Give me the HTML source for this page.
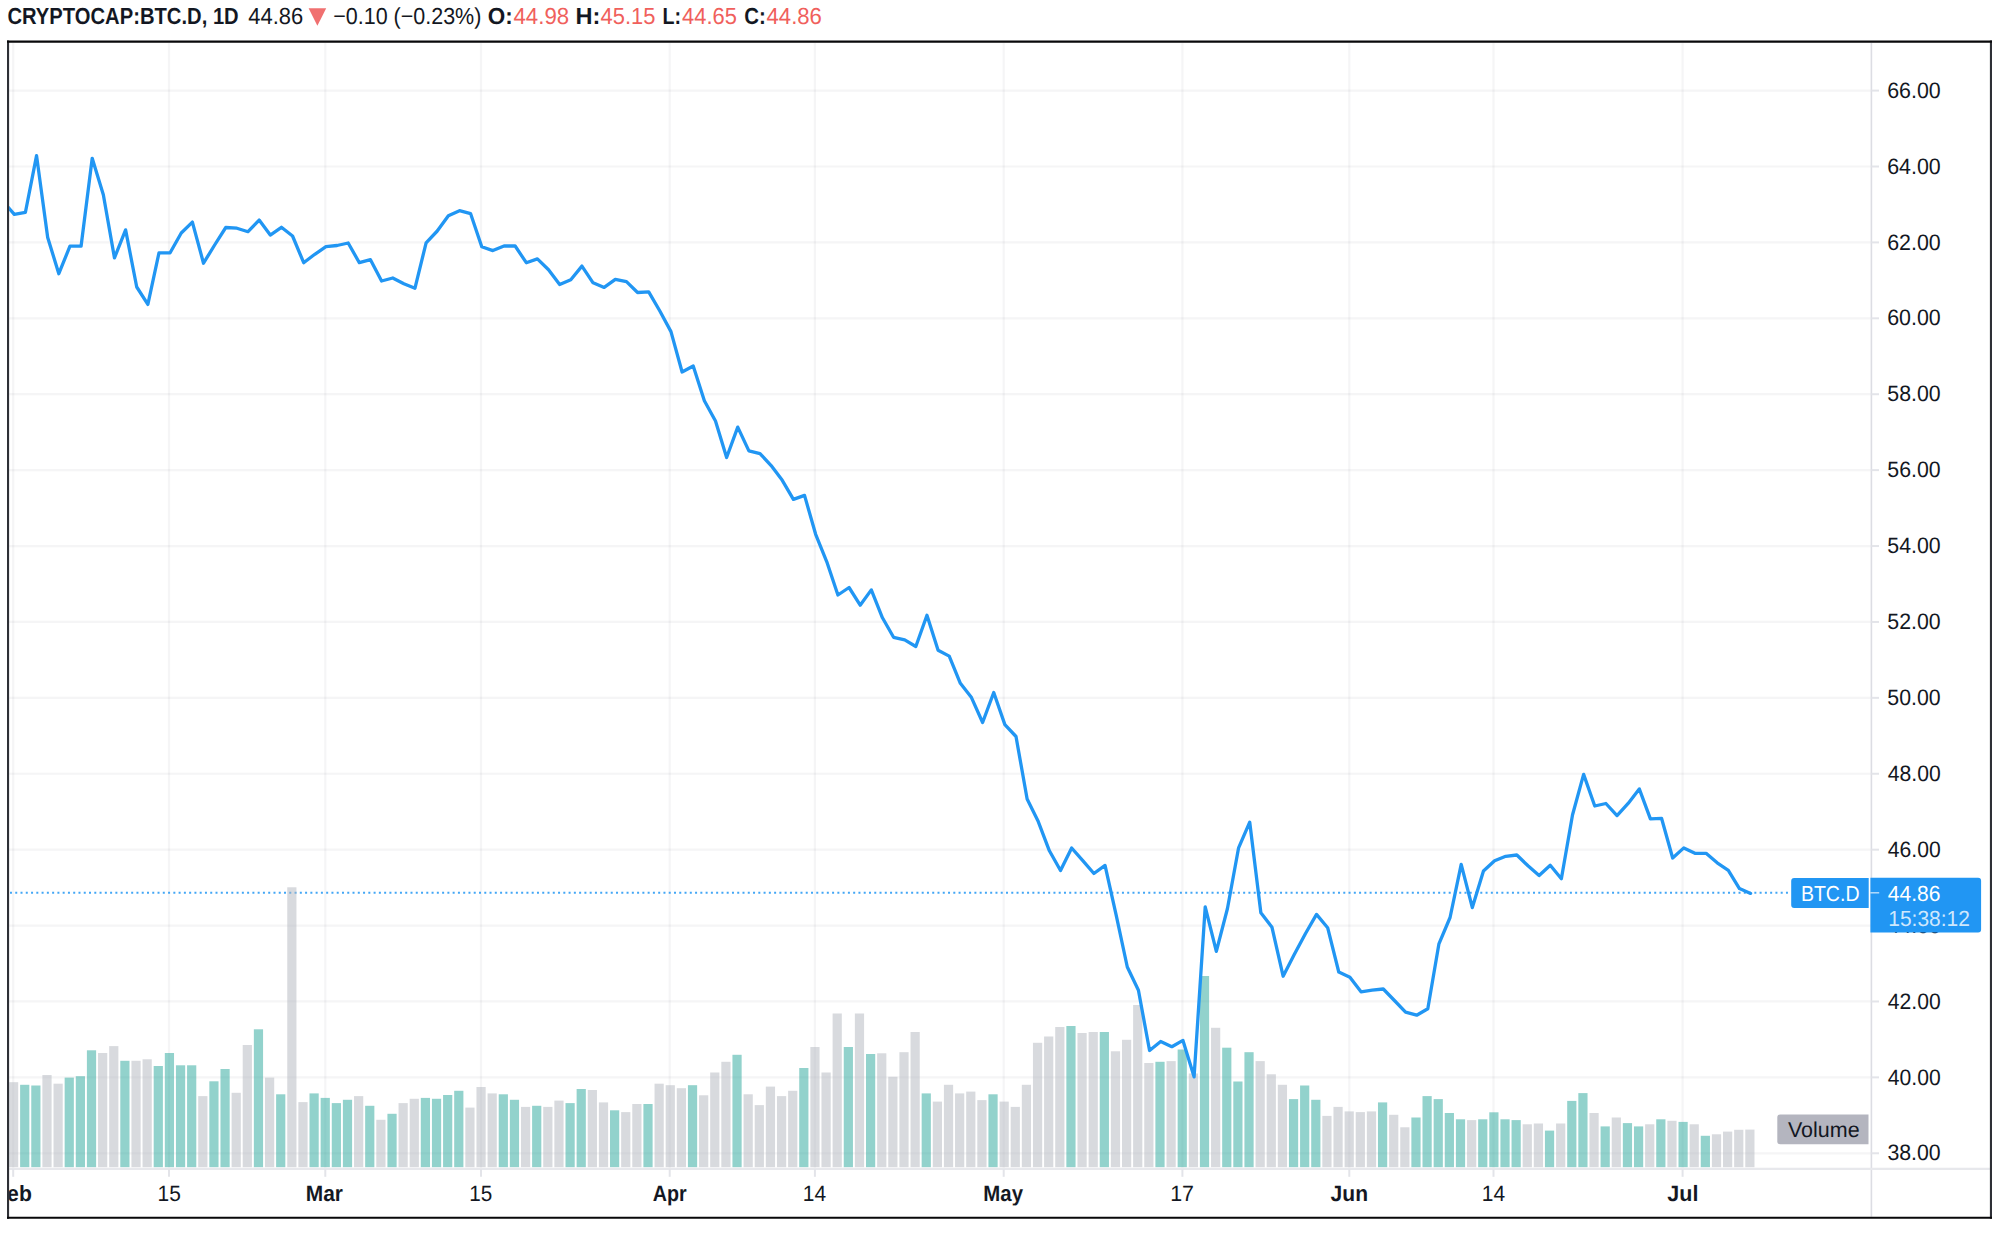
<!DOCTYPE html>
<html lang="en"><head><meta charset="utf-8"><title>CRYPTOCAP:BTC.D, 1D</title>
<style>html,body{margin:0;padding:0;background:#fff}body{width:1999px;height:1233px;overflow:hidden}</style>
</head><body>
<svg width="1999" height="1233" viewBox="0 0 1999 1233" style="display:block;font-family:'Liberation Sans', sans-serif;text-rendering:geometricPrecision">
<rect x="0" y="0" width="1999" height="1233" fill="#fff"/>
<defs><clipPath id="plot"><rect x="9.1" y="42.7" width="1862.3000000000002" height="1126.2"/></clipPath></defs>
<g stroke="#2a2e39" stroke-opacity="0.047" stroke-width="2.2" fill="none">
<line x1="9.1" y1="1153.28" x2="1871.4" y2="1153.28"/>
<line x1="9.1" y1="1077.38" x2="1871.4" y2="1077.38"/>
<line x1="9.1" y1="1001.47" x2="1871.4" y2="1001.47"/>
<line x1="9.1" y1="925.57" x2="1871.4" y2="925.57"/>
<line x1="9.1" y1="849.66" x2="1871.4" y2="849.66"/>
<line x1="9.1" y1="773.75" x2="1871.4" y2="773.75"/>
<line x1="9.1" y1="697.85" x2="1871.4" y2="697.85"/>
<line x1="9.1" y1="621.94" x2="1871.4" y2="621.94"/>
<line x1="9.1" y1="546.04" x2="1871.4" y2="546.04"/>
<line x1="9.1" y1="470.13" x2="1871.4" y2="470.13"/>
<line x1="9.1" y1="394.22" x2="1871.4" y2="394.22"/>
<line x1="9.1" y1="318.32" x2="1871.4" y2="318.32"/>
<line x1="9.1" y1="242.41" x2="1871.4" y2="242.41"/>
<line x1="9.1" y1="166.51" x2="1871.4" y2="166.51"/>
<line x1="9.1" y1="90.60" x2="1871.4" y2="90.60"/>
<line x1="13.20" y1="42.7" x2="13.20" y2="1168.9"/>
<line x1="169.00" y1="42.7" x2="169.00" y2="1168.9"/>
<line x1="325.30" y1="42.7" x2="325.30" y2="1168.9"/>
<line x1="481.00" y1="42.7" x2="481.00" y2="1168.9"/>
<line x1="669.70" y1="42.7" x2="669.70" y2="1168.9"/>
<line x1="814.90" y1="42.7" x2="814.90" y2="1168.9"/>
<line x1="1003.70" y1="42.7" x2="1003.70" y2="1168.9"/>
<line x1="1182.40" y1="42.7" x2="1182.40" y2="1168.9"/>
<line x1="1349.30" y1="42.7" x2="1349.30" y2="1168.9"/>
<line x1="1493.50" y1="42.7" x2="1493.50" y2="1168.9"/>
<line x1="1682.60" y1="42.7" x2="1682.60" y2="1168.9"/>
</g>
<g clip-path="url(#plot)">
<line x1="9.1" y1="892.8" x2="1789.6" y2="892.8" stroke="#2196f3" stroke-opacity="0.85" stroke-width="2" stroke-dasharray="2 3.27" stroke-dashoffset="4.4"/>
<g fill="#26a69a" fill-opacity="0.5"><rect x="20.13" y="1084.8" width="9.2" height="82.4"/><rect x="31.26" y="1085.5" width="9.2" height="81.7"/><rect x="64.65" y="1077.6" width="9.2" height="89.6"/><rect x="75.78" y="1076.2" width="9.2" height="91.0"/><rect x="86.91" y="1050.3" width="9.2" height="116.9"/><rect x="120.30" y="1060.8" width="9.2" height="106.4"/><rect x="153.69" y="1066.0" width="9.2" height="101.2"/><rect x="164.82" y="1053.0" width="9.2" height="114.2"/><rect x="175.95" y="1065.3" width="9.2" height="101.9"/><rect x="187.08" y="1065.3" width="9.2" height="101.9"/><rect x="209.34" y="1081.3" width="9.2" height="85.9"/><rect x="220.47" y="1069.0" width="9.2" height="98.2"/><rect x="253.86" y="1029.3" width="9.2" height="137.9"/><rect x="276.12" y="1094.3" width="9.2" height="72.9"/><rect x="309.51" y="1093.4" width="9.2" height="73.8"/><rect x="320.64" y="1097.9" width="9.2" height="69.3"/><rect x="331.77" y="1103.1" width="9.2" height="64.1"/><rect x="342.90" y="1099.8" width="9.2" height="67.4"/><rect x="365.16" y="1105.8" width="9.2" height="61.4"/><rect x="387.42" y="1113.8" width="9.2" height="53.4"/><rect x="420.81" y="1097.9" width="9.2" height="69.3"/><rect x="431.94" y="1098.8" width="9.2" height="68.4"/><rect x="443.07" y="1095.0" width="9.2" height="72.2"/><rect x="454.20" y="1090.8" width="9.2" height="76.4"/><rect x="498.72" y="1094.3" width="9.2" height="72.9"/><rect x="509.85" y="1099.8" width="9.2" height="67.4"/><rect x="532.11" y="1105.8" width="9.2" height="61.4"/><rect x="565.50" y="1103.1" width="9.2" height="64.1"/><rect x="576.63" y="1089.0" width="9.2" height="78.2"/><rect x="610.02" y="1110.3" width="9.2" height="56.9"/><rect x="643.41" y="1104.0" width="9.2" height="63.2"/><rect x="687.93" y="1085.2" width="9.2" height="82.0"/><rect x="732.45" y="1054.8" width="9.2" height="112.4"/><rect x="799.23" y="1068.0" width="9.2" height="99.2"/><rect x="843.75" y="1047.0" width="9.2" height="120.2"/><rect x="866.01" y="1054.0" width="9.2" height="113.2"/><rect x="921.66" y="1093.4" width="9.2" height="73.8"/><rect x="988.44" y="1094.3" width="9.2" height="72.9"/><rect x="1066.35" y="1026.0" width="9.2" height="141.2"/><rect x="1099.74" y="1032.0" width="9.2" height="135.2"/><rect x="1155.39" y="1061.8" width="9.2" height="105.4"/><rect x="1177.65" y="1049.5" width="9.2" height="117.7"/><rect x="1199.91" y="976.0" width="9.2" height="191.2"/><rect x="1222.17" y="1047.7" width="9.2" height="119.5"/><rect x="1233.30" y="1081.5" width="9.2" height="85.7"/><rect x="1244.43" y="1052.2" width="9.2" height="115.0"/><rect x="1288.95" y="1099.1" width="9.2" height="68.1"/><rect x="1300.08" y="1085.5" width="9.2" height="81.7"/><rect x="1311.21" y="1099.8" width="9.2" height="67.4"/><rect x="1377.99" y="1102.4" width="9.2" height="64.8"/><rect x="1411.38" y="1117.5" width="9.2" height="49.7"/><rect x="1422.51" y="1096.1" width="9.2" height="71.1"/><rect x="1433.64" y="1099.1" width="9.2" height="68.1"/><rect x="1444.77" y="1113.0" width="9.2" height="54.2"/><rect x="1455.90" y="1119.3" width="9.2" height="47.9"/><rect x="1478.16" y="1119.3" width="9.2" height="47.9"/><rect x="1489.29" y="1112.3" width="9.2" height="54.9"/><rect x="1500.42" y="1119.3" width="9.2" height="47.9"/><rect x="1511.55" y="1120.1" width="9.2" height="47.1"/><rect x="1544.94" y="1130.6" width="9.2" height="36.6"/><rect x="1567.20" y="1100.9" width="9.2" height="66.3"/><rect x="1578.33" y="1093.1" width="9.2" height="74.1"/><rect x="1600.59" y="1126.4" width="9.2" height="40.8"/><rect x="1622.85" y="1123.1" width="9.2" height="44.1"/><rect x="1633.98" y="1126.4" width="9.2" height="40.8"/><rect x="1656.24" y="1119.3" width="9.2" height="47.9"/><rect x="1678.50" y="1121.9" width="9.2" height="45.3"/><rect x="1700.76" y="1135.8" width="9.2" height="31.4"/></g>
<g fill="#b2b5be" fill-opacity="0.5"><rect x="9.00" y="1082.2" width="9.2" height="85.0"/><rect x="42.39" y="1075.0" width="9.2" height="92.2"/><rect x="53.52" y="1083.7" width="9.2" height="83.5"/><rect x="98.04" y="1053.0" width="9.2" height="114.2"/><rect x="109.17" y="1046.1" width="9.2" height="121.1"/><rect x="131.43" y="1060.8" width="9.2" height="106.4"/><rect x="142.56" y="1059.3" width="9.2" height="107.9"/><rect x="198.21" y="1096.1" width="9.2" height="71.1"/><rect x="231.60" y="1092.8" width="9.2" height="74.4"/><rect x="242.73" y="1045.0" width="9.2" height="122.2"/><rect x="264.99" y="1077.6" width="9.2" height="89.6"/><rect x="287.25" y="887.3" width="9.2" height="279.9"/><rect x="298.38" y="1102.1" width="9.2" height="65.1"/><rect x="354.03" y="1096.1" width="9.2" height="71.1"/><rect x="376.29" y="1119.8" width="9.2" height="47.4"/><rect x="398.55" y="1103.1" width="9.2" height="64.1"/><rect x="409.68" y="1098.8" width="9.2" height="68.4"/><rect x="465.33" y="1107.6" width="9.2" height="59.6"/><rect x="476.46" y="1087.0" width="9.2" height="80.2"/><rect x="487.59" y="1093.4" width="9.2" height="73.8"/><rect x="520.98" y="1106.9" width="9.2" height="60.3"/><rect x="543.24" y="1106.9" width="9.2" height="60.3"/><rect x="554.37" y="1100.6" width="9.2" height="66.6"/><rect x="587.76" y="1090.0" width="9.2" height="77.2"/><rect x="598.89" y="1102.4" width="9.2" height="64.8"/><rect x="621.15" y="1112.1" width="9.2" height="55.1"/><rect x="632.28" y="1104.0" width="9.2" height="63.2"/><rect x="654.54" y="1083.7" width="9.2" height="83.5"/><rect x="665.67" y="1085.2" width="9.2" height="82.0"/><rect x="676.80" y="1088.2" width="9.2" height="79.0"/><rect x="699.06" y="1095.3" width="9.2" height="71.9"/><rect x="710.19" y="1072.5" width="9.2" height="94.7"/><rect x="721.32" y="1061.8" width="9.2" height="105.4"/><rect x="743.58" y="1094.3" width="9.2" height="72.9"/><rect x="754.71" y="1105.1" width="9.2" height="62.1"/><rect x="765.84" y="1086.6" width="9.2" height="80.6"/><rect x="776.97" y="1096.1" width="9.2" height="71.1"/><rect x="788.10" y="1090.8" width="9.2" height="76.4"/><rect x="810.36" y="1047.0" width="9.2" height="120.2"/><rect x="821.49" y="1072.5" width="9.2" height="94.7"/><rect x="832.62" y="1013.5" width="9.2" height="153.7"/><rect x="854.88" y="1013.5" width="9.2" height="153.7"/><rect x="877.14" y="1053.3" width="9.2" height="113.9"/><rect x="888.27" y="1076.8" width="9.2" height="90.4"/><rect x="899.40" y="1052.2" width="9.2" height="115.0"/><rect x="910.53" y="1032.0" width="9.2" height="135.2"/><rect x="932.79" y="1101.6" width="9.2" height="65.6"/><rect x="943.92" y="1084.8" width="9.2" height="82.4"/><rect x="955.05" y="1093.4" width="9.2" height="73.8"/><rect x="966.18" y="1091.6" width="9.2" height="75.6"/><rect x="977.31" y="1100.1" width="9.2" height="67.1"/><rect x="999.57" y="1101.6" width="9.2" height="65.6"/><rect x="1010.70" y="1106.9" width="9.2" height="60.3"/><rect x="1021.83" y="1084.8" width="9.2" height="82.4"/><rect x="1032.96" y="1042.8" width="9.2" height="124.4"/><rect x="1044.09" y="1036.5" width="9.2" height="130.7"/><rect x="1055.22" y="1027.0" width="9.2" height="140.2"/><rect x="1077.48" y="1033.0" width="9.2" height="134.2"/><rect x="1088.61" y="1032.0" width="9.2" height="135.2"/><rect x="1110.87" y="1051.3" width="9.2" height="115.9"/><rect x="1122.00" y="1039.8" width="9.2" height="127.4"/><rect x="1133.13" y="1005.0" width="9.2" height="162.2"/><rect x="1144.26" y="1063.0" width="9.2" height="104.2"/><rect x="1166.52" y="1061.1" width="9.2" height="106.1"/><rect x="1188.78" y="1073.5" width="9.2" height="93.7"/><rect x="1211.04" y="1027.8" width="9.2" height="139.4"/><rect x="1255.56" y="1061.1" width="9.2" height="106.1"/><rect x="1266.69" y="1074.3" width="9.2" height="92.9"/><rect x="1277.82" y="1084.8" width="9.2" height="82.4"/><rect x="1322.34" y="1115.9" width="9.2" height="51.3"/><rect x="1333.47" y="1106.9" width="9.2" height="60.3"/><rect x="1344.60" y="1111.4" width="9.2" height="55.8"/><rect x="1355.73" y="1112.1" width="9.2" height="55.1"/><rect x="1366.86" y="1111.4" width="9.2" height="55.8"/><rect x="1389.12" y="1114.8" width="9.2" height="52.4"/><rect x="1400.25" y="1127.3" width="9.2" height="39.9"/><rect x="1467.03" y="1120.1" width="9.2" height="47.1"/><rect x="1522.68" y="1124.3" width="9.2" height="42.9"/><rect x="1533.81" y="1123.5" width="9.2" height="43.7"/><rect x="1556.07" y="1123.5" width="9.2" height="43.7"/><rect x="1589.46" y="1113.0" width="9.2" height="54.2"/><rect x="1611.72" y="1117.5" width="9.2" height="49.7"/><rect x="1645.11" y="1124.3" width="9.2" height="42.9"/><rect x="1667.37" y="1120.8" width="9.2" height="46.4"/><rect x="1689.63" y="1124.3" width="9.2" height="42.9"/><rect x="1711.89" y="1134.3" width="9.2" height="32.9"/><rect x="1723.02" y="1131.6" width="9.2" height="35.6"/><rect x="1734.15" y="1129.8" width="9.2" height="37.4"/><rect x="1745.28" y="1129.6" width="9.2" height="37.6"/></g>
<polyline points="3.17,201.5 14.30,214.3 25.43,212.3 36.56,155.6 47.69,237.5 58.82,273.7 69.95,246.2 81.08,246.2 92.21,158.3 103.34,194.8 114.47,257.9 125.60,229.9 136.73,287.0 147.86,304.4 158.99,252.8 170.12,252.8 181.25,233.0 192.38,222.1 203.51,263.2 214.64,245.0 225.77,227.5 236.90,228.2 248.03,231.7 259.16,220.1 270.29,235.1 281.42,227.3 292.55,236.0 303.68,262.7 314.81,254.3 325.94,246.7 337.07,245.5 348.20,243.0 359.33,262.7 370.46,259.7 381.59,281.0 392.72,278.0 403.85,283.8 414.98,288.2 426.11,242.8 437.24,231.0 448.37,215.8 459.50,210.7 470.63,213.7 481.76,246.7 492.89,250.6 504.02,246.0 515.15,246.0 526.28,262.7 537.41,258.9 548.54,269.8 559.67,284.6 570.80,279.8 581.93,266.1 593.06,282.8 604.19,287.4 615.32,279.3 626.45,281.6 637.58,292.5 648.71,291.8 659.84,311.0 670.97,331.6 682.10,372.0 693.23,366.0 704.36,400.8 715.49,421.0 726.62,457.5 737.75,427.1 748.88,450.9 760.01,453.6 771.14,465.6 782.27,480.3 793.40,499.4 804.53,495.4 815.66,534.3 826.79,561.8 837.92,595.0 849.05,587.5 860.18,605.2 871.31,589.9 882.44,617.8 893.57,637.3 904.70,639.8 915.83,646.5 926.96,615.2 938.09,650.2 949.22,656.1 960.35,683.3 971.48,697.6 982.61,722.5 993.74,692.5 1004.87,724.6 1016.00,736.5 1027.13,799.0 1038.26,821.6 1049.39,850.8 1060.52,870.5 1071.65,848.0 1082.78,860.6 1093.91,873.5 1105.04,865.4 1116.17,915.2 1127.30,967.0 1138.43,990.3 1149.56,1050.5 1160.69,1041.5 1171.82,1046.7 1182.95,1040.4 1194.08,1076.8 1205.21,906.9 1216.34,951.4 1227.47,908.5 1238.60,847.8 1249.73,822.2 1260.86,912.7 1271.99,927.3 1283.12,976.2 1294.25,954.6 1305.38,933.7 1316.51,914.4 1327.64,927.7 1338.77,972.0 1349.90,977.2 1361.03,991.8 1372.16,990.2 1383.29,989.0 1394.42,1000.5 1405.55,1012.1 1416.68,1015.2 1427.81,1008.8 1438.94,943.8 1450.07,917.5 1461.20,864.4 1472.33,907.6 1483.46,871.0 1494.59,860.8 1505.72,856.3 1516.85,855.0 1527.98,865.8 1539.11,875.5 1550.24,865.3 1561.37,878.7 1572.50,815.0 1583.63,774.4 1594.76,806.0 1605.89,803.5 1617.02,815.6 1628.15,803.4 1639.28,788.9 1650.41,818.8 1661.54,818.3 1672.67,858.0 1683.80,847.9 1694.93,853.3 1706.06,853.3 1717.19,862.8 1728.32,870.3 1739.45,888.6 1750.58,893.4" fill="none" stroke="#2196f3" stroke-width="3.3" stroke-linejoin="round" stroke-linecap="round"/>
</g>
<line x1="1871.4" y1="42.7" x2="1871.4" y2="1216.7" stroke="#dcdde3" stroke-width="1.6"/>
<line x1="9.1" y1="1168.9" x2="1989.9" y2="1168.9" stroke="#e7e8ec" stroke-width="2.1"/>
<g stroke="#e3e4e9" stroke-width="2" fill="none">
<line x1="1871.4" y1="1153.28" x2="1879.0" y2="1153.28"/>
<line x1="1871.4" y1="1077.38" x2="1879.0" y2="1077.38"/>
<line x1="1871.4" y1="1001.47" x2="1879.0" y2="1001.47"/>
<line x1="1871.4" y1="925.57" x2="1879.0" y2="925.57"/>
<line x1="1871.4" y1="849.66" x2="1879.0" y2="849.66"/>
<line x1="1871.4" y1="773.75" x2="1879.0" y2="773.75"/>
<line x1="1871.4" y1="697.85" x2="1879.0" y2="697.85"/>
<line x1="1871.4" y1="621.94" x2="1879.0" y2="621.94"/>
<line x1="1871.4" y1="546.04" x2="1879.0" y2="546.04"/>
<line x1="1871.4" y1="470.13" x2="1879.0" y2="470.13"/>
<line x1="1871.4" y1="394.22" x2="1879.0" y2="394.22"/>
<line x1="1871.4" y1="318.32" x2="1879.0" y2="318.32"/>
<line x1="1871.4" y1="242.41" x2="1879.0" y2="242.41"/>
<line x1="1871.4" y1="166.51" x2="1879.0" y2="166.51"/>
<line x1="1871.4" y1="90.60" x2="1879.0" y2="90.60"/>
<line x1="13.20" y1="1168.9" x2="13.20" y2="1176.8000000000002"/>
<line x1="169.00" y1="1168.9" x2="169.00" y2="1176.8000000000002"/>
<line x1="325.30" y1="1168.9" x2="325.30" y2="1176.8000000000002"/>
<line x1="481.00" y1="1168.9" x2="481.00" y2="1176.8000000000002"/>
<line x1="669.70" y1="1168.9" x2="669.70" y2="1176.8000000000002"/>
<line x1="814.90" y1="1168.9" x2="814.90" y2="1176.8000000000002"/>
<line x1="1003.70" y1="1168.9" x2="1003.70" y2="1176.8000000000002"/>
<line x1="1182.40" y1="1168.9" x2="1182.40" y2="1176.8000000000002"/>
<line x1="1349.30" y1="1168.9" x2="1349.30" y2="1176.8000000000002"/>
<line x1="1493.50" y1="1168.9" x2="1493.50" y2="1176.8000000000002"/>
<line x1="1682.60" y1="1168.9" x2="1682.60" y2="1176.8000000000002"/>
</g>
<g><text transform="translate(1887.38 1160.43) scale(0.9609 1)" font-size="22.2" fill="#131722">38.00</text><text transform="translate(1887.80 1084.53) scale(0.9531 1)" font-size="22.2" fill="#131722">40.00</text><text transform="translate(1887.80 1008.62) scale(0.9531 1)" font-size="22.2" fill="#131722">42.00</text><text transform="translate(1887.80 932.72) scale(0.9531 1)" font-size="22.2" fill="#131722">44.00</text><text transform="translate(1887.80 856.81) scale(0.9531 1)" font-size="22.2" fill="#131722">46.00</text><text transform="translate(1887.80 780.90) scale(0.9531 1)" font-size="22.2" fill="#131722">48.00</text><text transform="translate(1887.35 705.00) scale(0.9614 1)" font-size="22.2" fill="#131722">50.00</text><text transform="translate(1887.35 629.09) scale(0.9614 1)" font-size="22.2" fill="#131722">52.00</text><text transform="translate(1887.35 553.19) scale(0.9614 1)" font-size="22.2" fill="#131722">54.00</text><text transform="translate(1887.35 477.28) scale(0.9614 1)" font-size="22.2" fill="#131722">56.00</text><text transform="translate(1887.35 401.37) scale(0.9614 1)" font-size="22.2" fill="#131722">58.00</text><text transform="translate(1887.16 325.47) scale(0.9649 1)" font-size="22.2" fill="#131722">60.00</text><text transform="translate(1887.16 249.56) scale(0.9649 1)" font-size="22.2" fill="#131722">62.00</text><text transform="translate(1887.16 173.66) scale(0.9649 1)" font-size="22.2" fill="#131722">64.00</text><text transform="translate(1887.16 97.75) scale(0.9649 1)" font-size="22.2" fill="#131722">66.00</text></g>
<defs><clipPath id="tclip"><rect x="9.1" y="1168.9" width="1980.8000000000002" height="47.799999999999955"/></clipPath></defs>
<g clip-path="url(#tclip)"><text transform="translate(-5.83 1200.65) scale(0.9549 1)" font-size="22.2" fill="#131722" font-weight="700" stroke="#fff" stroke-width="0.04">Feb</text><text transform="translate(157.51 1200.65) scale(0.9421 1)" font-size="22.2" fill="#131722">15</text><text transform="translate(305.79 1200.65) scale(0.9427 1)" font-size="22.2" fill="#131722" font-weight="700" stroke="#fff" stroke-width="0.04">Mar</text><text transform="translate(469.32 1200.65) scale(0.9329 1)" font-size="22.2" fill="#131722">15</text><text transform="translate(652.85 1200.65) scale(0.8882 1)" font-size="22.2" fill="#131722" font-weight="700" stroke="#fff" stroke-width="0.04">Apr</text><text transform="translate(802.80 1200.65) scale(0.9446 1)" font-size="22.2" fill="#131722">14</text><text transform="translate(983.33 1200.65) scale(0.9194 1)" font-size="22.2" fill="#131722" font-weight="700" stroke="#fff" stroke-width="0.04">May</text><text transform="translate(1170.17 1200.65) scale(0.9645 1)" font-size="22.2" fill="#131722">17</text><text transform="translate(1330.55 1200.65) scale(0.9496 1)" font-size="22.2" fill="#131722" font-weight="700" stroke="#fff" stroke-width="0.04">Jun</text><text transform="translate(1481.80 1200.65) scale(0.9446 1)" font-size="22.2" fill="#131722">14</text><text transform="translate(1667.34 1200.65) scale(0.9700 1)" font-size="22.2" fill="#131722" font-weight="700" stroke="#fff" stroke-width="0.04">Jul</text></g>
<path d="M1780.3 1114.5H1868.5V1144.3H1780.3a3 3 0 0 1 -3 -3V1117.5a3 3 0 0 1 3 -3z" fill="#b4b5bf"/>
<text transform="translate(1787.95 1136.90) scale(0.9993 1)" font-size="21.5" fill="#131722">Volume</text>
<path d="M1794.2 877.9H1868.7V908.0H1794.2a3 3 0 0 1 -3 -3V880.9a3 3 0 0 1 3 -3z" fill="#2196f3"/>
<text transform="translate(1800.90 900.60) scale(0.9006 1)" font-size="21.7" fill="#fff">BTC.D</text>
<path d="M1870.4 877.7H1978.1a3 3 0 0 1 3 3V929.4a3 3 0 0 1 -3 3H1870.4z" fill="#2196f3"/>
<line x1="1870.4" y1="892.8" x2="1879.2" y2="892.8" stroke="#fff" stroke-opacity="0.7" stroke-width="1.4"/>
<text transform="translate(1887.81 900.70) scale(0.9602 1)" font-size="21.9" fill="#fff">44.86</text><text transform="translate(1888.30 925.50) scale(0.9575 1)" font-size="21.9" fill="#fff" fill-opacity="0.8">15:38:12</text>
<g fill="none" stroke-width="2.1"><path d="M8.05 40.6V1218.8M1990.95 40.6V1218.8" stroke="#2e3036"/><path d="M7.0 41.65H1992.0M7.0 1217.75H1992.0" stroke="#08080a"/></g>
<g><text transform="translate(7.43 23.80) scale(0.8715 1)" font-size="23.2" fill="#131722" font-weight="700" stroke="#fff" stroke-width="0.04">CRYPTOCAP:BTC.D, 1D</text><text transform="translate(248.29 23.80) scale(0.9463 1)" font-size="23.2" fill="#131722">44.86</text><text transform="translate(333.22 23.80) scale(0.9269 1)" font-size="23.2" fill="#131722">−0.10 (−0.23%)</text><text transform="translate(487.83 23.80) scale(0.9698 1)" font-size="23.2" fill="#131722" font-weight="700" stroke="#fff" stroke-width="0.04">O:</text><text transform="translate(513.49 23.80) scale(0.9585 1)" font-size="23.2" fill="#f05f5c">44.98</text><text transform="translate(575.62 23.80) scale(1.0154 1)" font-size="23.2" fill="#131722" font-weight="700" stroke="#fff" stroke-width="0.04">H:</text><text transform="translate(600.49 23.80) scale(0.9457 1)" font-size="23.2" fill="#f05f5c">45.15</text><text transform="translate(662.48 23.80) scale(0.8478 1)" font-size="23.2" fill="#131722" font-weight="700" stroke="#fff" stroke-width="0.04">L:</text><text transform="translate(681.99 23.80) scale(0.9457 1)" font-size="23.2" fill="#f05f5c">44.65</text><text transform="translate(744.22 23.80) scale(0.8804 1)" font-size="23.2" fill="#131722" font-weight="700" stroke="#fff" stroke-width="0.04">C:</text><text transform="translate(766.49 23.80) scale(0.9552 1)" font-size="23.2" fill="#f05f5c">44.86</text><path d="M308.6 8.2H326.2L317.4 25.8z" fill="#f07070"/></g>
</svg>
</body></html>
